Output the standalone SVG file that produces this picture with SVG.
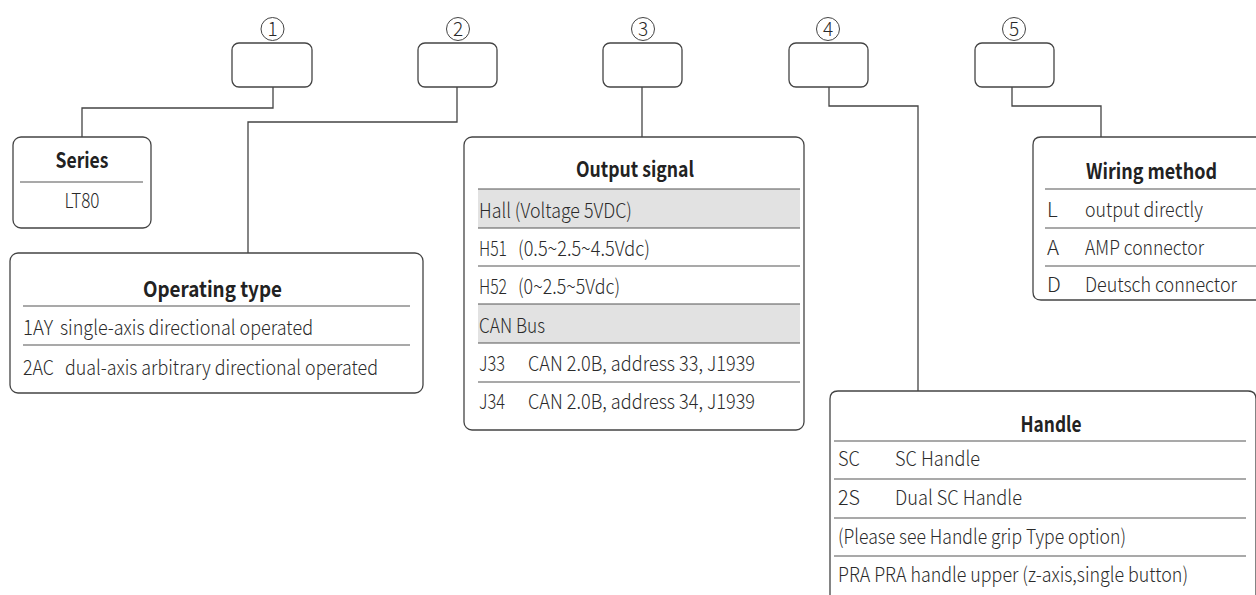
<svg xmlns="http://www.w3.org/2000/svg" width="1256" height="595" viewBox="0 0 1256 595">
<style>
.box{fill:#fff;stroke:#444;stroke-width:1.3}
.conn{fill:none;stroke:#444;stroke-width:1.3}
.sep{stroke:#555;stroke-width:1.2}
.band{fill:#e2e2e2}
.t{font-family:"Noto Sans CJK SC","Noto Sans",sans-serif;font-size:20.5px;font-weight:300;fill:#2a2a2a}
.h{font-family:"Noto Sans CJK SC","Noto Sans",sans-serif;font-size:21px;font-weight:700;fill:#222;text-anchor:middle}
.num{font-family:"Noto Sans CJK SC","Noto Sans",sans-serif;font-size:19px;font-weight:300;fill:#2a2a2a;text-anchor:middle}
.circ{fill:none;stroke:#444;stroke-width:1}
</style>
<rect width="1256" height="595" fill="#fff"/>
<g id="connectors">
<path class="conn" d="M273,87 V108 H82 V137"/>
<path class="conn" d="M457,87 V122 H248 V253"/>
<path class="conn" d="M642,87 V137"/>
<path class="conn" d="M829,87 V106 H918 V391"/>
<path class="conn" d="M1012,87 V106 H1101 V138"/>
</g>
<g id="pos1">
<circle class="circ" cx="272.5" cy="29" r="11.5"/>
<text class="num" x="272.5" y="35.5">1</text>
<rect class="box" x="232" y="43" width="80" height="44" rx="7"/>
</g>
<g id="pos2">
<circle class="circ" cx="458" cy="29" r="11.5"/>
<text class="num" x="458" y="35.5">2</text>
<rect class="box" x="418" y="43" width="79" height="44" rx="7"/>
</g>
<g id="pos3">
<circle class="circ" cx="643" cy="29" r="11.5"/>
<text class="num" x="643" y="35.5">3</text>
<rect class="box" x="603" y="43" width="79" height="44" rx="7"/>
</g>
<g id="pos4">
<circle class="circ" cx="828" cy="29" r="11.5"/>
<text class="num" x="828" y="35.5">4</text>
<rect class="box" x="789" y="43" width="79" height="44" rx="7"/>
</g>
<g id="pos5">
<circle class="circ" cx="1014" cy="29" r="11.5"/>
<text class="num" x="1014" y="35.5">5</text>
<rect class="box" x="975" y="43" width="79" height="44" rx="7"/>
</g>
<g id="series">
<rect class="box" x="13" y="137" width="138" height="91" rx="8"/>
<text class="h" x="82" y="168" textLength="53" lengthAdjust="spacingAndGlyphs">Series</text>
<line class="sep" x1="20" y1="182" x2="143" y2="182"/>
<text class="t" x="82" y="208" text-anchor="middle" textLength="35" lengthAdjust="spacingAndGlyphs">LT80</text>
</g>
<g id="operating">
<rect class="box" x="10" y="253" width="413" height="140" rx="8"/>
<text class="h" x="212.5" y="297" textLength="139" lengthAdjust="spacingAndGlyphs">Operating type</text>
<line class="sep" x1="23" y1="306" x2="410" y2="306"/>
<text class="t" x="23" y="335" textLength="30" lengthAdjust="spacingAndGlyphs">1AY</text>
<text class="t" x="60" y="335" textLength="253" lengthAdjust="spacingAndGlyphs">single-axis directional operated</text>
<line class="sep" x1="23" y1="345" x2="410" y2="345"/>
<text class="t" x="23" y="375" textLength="31" lengthAdjust="spacingAndGlyphs">2AC</text>
<text class="t" x="65" y="375" textLength="313" lengthAdjust="spacingAndGlyphs">dual-axis arbitrary directional operated</text>
</g>
<g id="output">
<rect class="box" x="464" y="137" width="340" height="293" rx="8"/>
<text class="h" x="635" y="177" textLength="118" lengthAdjust="spacingAndGlyphs">Output signal</text>
<rect class="band" x="478" y="189" width="322" height="39"/>
<rect class="band" x="478" y="304" width="322" height="39"/>
<line class="sep" x1="478" y1="189" x2="800" y2="189"/>
<line class="sep" x1="478" y1="228" x2="800" y2="228"/>
<line class="sep" x1="478" y1="266" x2="800" y2="266"/>
<line class="sep" x1="478" y1="304" x2="800" y2="304"/>
<line class="sep" x1="478" y1="343" x2="800" y2="343"/>
<line class="sep" x1="478" y1="382" x2="800" y2="382"/>
<text class="t" x="479" y="218" textLength="153" lengthAdjust="spacingAndGlyphs">Hall (Voltage 5VDC)</text>
<text class="t" x="479" y="256" textLength="28" lengthAdjust="spacingAndGlyphs">H51</text>
<text class="t" x="518" y="256" textLength="132" lengthAdjust="spacingAndGlyphs">(0.5~2.5~4.5Vdc)</text>
<text class="t" x="479" y="294" textLength="28" lengthAdjust="spacingAndGlyphs">H52</text>
<text class="t" x="518" y="294" textLength="102" lengthAdjust="spacingAndGlyphs">(0~2.5~5Vdc)</text>
<text class="t" x="479" y="333" textLength="66" lengthAdjust="spacingAndGlyphs">CAN Bus</text>
<text class="t" x="479" y="371" textLength="26" lengthAdjust="spacingAndGlyphs">J33</text>
<text class="t" x="528" y="371" textLength="227" lengthAdjust="spacingAndGlyphs">CAN 2.0B, address 33, J1939</text>
<text class="t" x="479" y="409" textLength="26" lengthAdjust="spacingAndGlyphs">J34</text>
<text class="t" x="528" y="409" textLength="227" lengthAdjust="spacingAndGlyphs">CAN 2.0B, address 34, J1939</text>
</g>
<g id="wiring">
<path class="box" d="M1256,137 H1041 Q1033,137 1033,145 V292 Q1033,300 1041,300 H1256"/>
<text class="h" x="1151.5" y="179" textLength="131" lengthAdjust="spacingAndGlyphs">Wiring method</text>
<line class="sep" x1="1045" y1="189" x2="1256" y2="189"/>
<line class="sep" x1="1045" y1="228" x2="1256" y2="228"/>
<line class="sep" x1="1045" y1="266" x2="1256" y2="266"/>
<text class="t" x="1047" y="217">L</text>
<text class="t" x="1085" y="217" textLength="118" lengthAdjust="spacingAndGlyphs">output directly</text>
<text class="t" x="1047" y="255">A</text>
<text class="t" x="1085" y="255" textLength="119" lengthAdjust="spacingAndGlyphs">AMP connector</text>
<text class="t" x="1047" y="292">D</text>
<text class="t" x="1085" y="292" style="font-size:19.5px" textLength="152" lengthAdjust="spacingAndGlyphs">Deutsch connector</text>
</g>
<g id="handle">
<path class="box" d="M830,600 V399 Q830,391 838,391 H1248 Q1256,391 1256,399 V600"/>
<text class="h" x="1051" y="432" textLength="61" lengthAdjust="spacingAndGlyphs">Handle</text>
<line class="sep" x1="834" y1="441" x2="1246" y2="441"/>
<line class="sep" x1="834" y1="479" x2="1246" y2="479"/>
<line class="sep" x1="834" y1="518" x2="1246" y2="518"/>
<line class="sep" x1="834" y1="556" x2="1246" y2="556"/>
<text class="t" x="838" y="466" textLength="22" lengthAdjust="spacingAndGlyphs">SC</text>
<text class="t" x="895" y="466" textLength="85" lengthAdjust="spacingAndGlyphs">SC Handle</text>
<text class="t" x="838" y="505" textLength="22" lengthAdjust="spacingAndGlyphs">2S</text>
<text class="t" x="895" y="505" textLength="127" lengthAdjust="spacingAndGlyphs">Dual SC Handle</text>
<text class="t" x="838" y="544" textLength="288" lengthAdjust="spacingAndGlyphs">(Please see Handle grip Type option)</text>
<text class="t" x="838" y="582" textLength="350" lengthAdjust="spacingAndGlyphs">PRA PRA handle upper (z-axis,single button)</text>
</g>
</svg>
